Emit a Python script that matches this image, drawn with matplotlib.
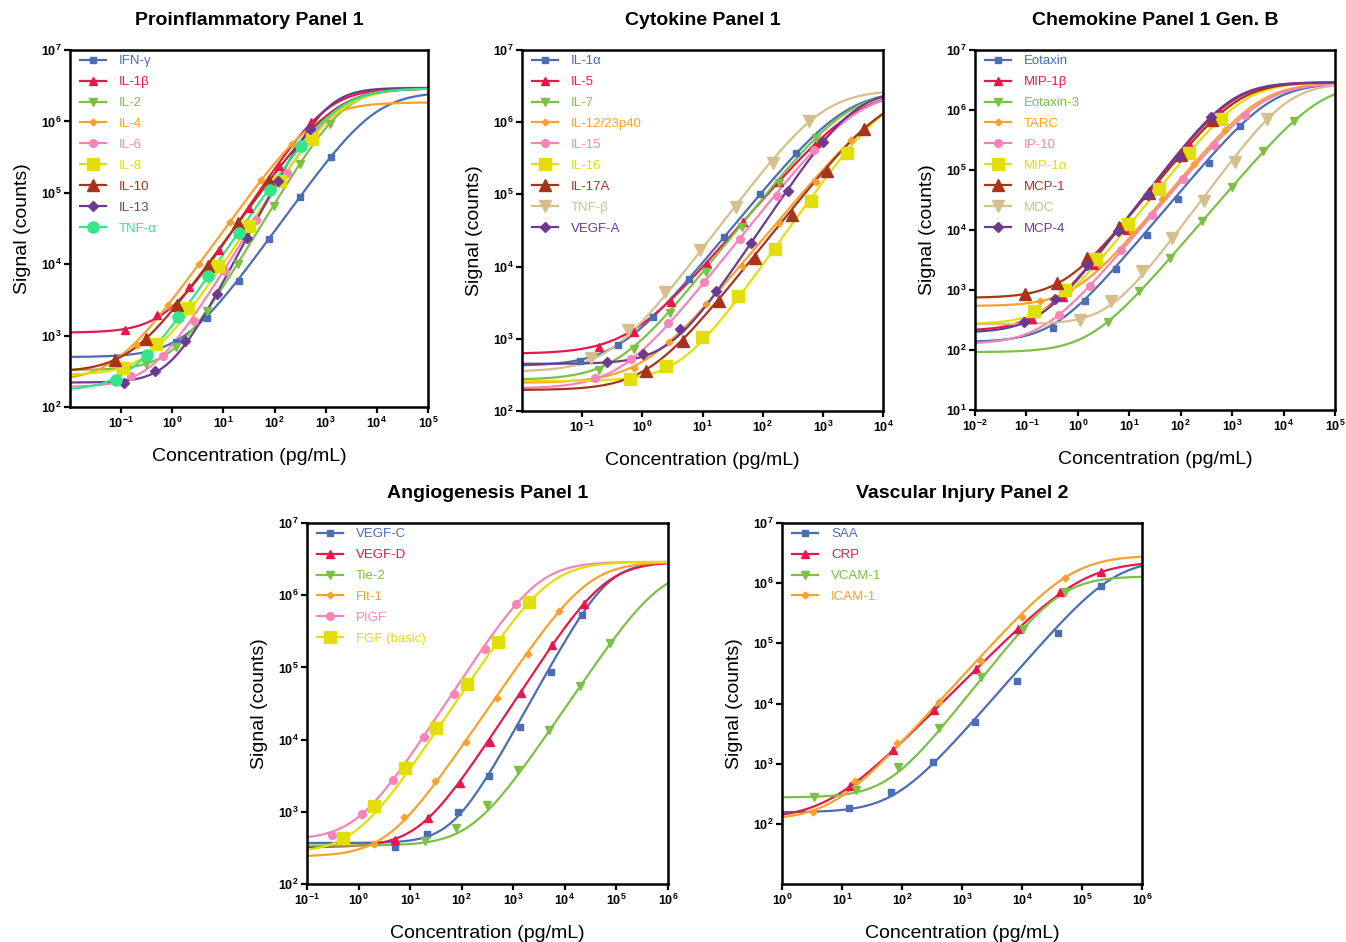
import numpy as np
import matplotlib
matplotlib.use("Agg")
import matplotlib.pyplot as plt

plt.rcParams['font.family'] = ['Liberation Sans', 'DejaVu Sans']
plt.rcParams['mathtext.fontset'] = 'custom'
plt.rcParams['mathtext.rm'] = 'Liberation Sans:bold'
plt.rcParams['mathtext.it'] = 'Liberation Sans:bold'
plt.rcParams['mathtext.bf'] = 'Liberation Sans:bold'

# ---------------- data ----------------
# fit parameters per series: (bottom, top, EC50, hill)
P1_TITLE = "Proinflammatory Panel 1"
P1_LABELS = ["IFN-γ", "IL-1β", "IL-2", "IL-4", "IL-6", "IL-8", "IL-10", "IL-13", "TNF-α"]
P1_CONC = [
    [1.2, 4.8, 20, 78, 316, 1260],
    [0.12, 0.5, 2.1, 8.2, 32, 122, 515],
    [0.3, 1.2, 4.7, 19, 98, 316, 1200],
    [0.2, 0.83, 3.3, 13.5, 54, 219],
    [0.155, 0.65, 2.6, 10.5, 43, 174],
    [0.11, 0.49, 2.0, 7.9, 31, 129, 540],
    [0.076, 0.30, 1.23, 4.9, 19.5, 78],
    [0.115, 0.46, 1.8, 7.4, 29.5, 117, 490],
    [0.079, 0.32, 1.29, 5.1, 20.4, 83, 324],
]
P1_SIGNAL = [
    [820, 1780, 5800, 22400, 87000, 316000],
    [1200, 1950, 4800, 15800, 61000, 238000, 980000],
    [400, 700, 2200, 10200, 66000, 257000, 930000],
    [740, 2700, 10000, 39000, 149000, 480000],
    [270, 520, 1600, 8000, 41000, 190000],
    [355, 760, 2400, 9300, 34000, 148000, 575000],
    [450, 900, 2700, 9500, 38000, 145000],
    [220, 320, 830, 3800, 23000, 148000, 790000],
    [240, 540, 1800, 6800, 27000, 110000, 447000],
]
P1_FIT = [
    (500, 2.6e6, 9000, 1.0),
    (1100, 2.9e6, 1000, 1.1),
    (330, 2.9e6, 2240, 1.19),
    (230, 1.85e6, 620, 1.0),
    (190, 2.9e6, 1700, 1.15),
    (280, 2.9e6, 1990, 1.07),
    (310, 2.9e6, 1480, 1.0),
    (220, 2.95e6, 1010, 1.36),
    (170, 2.9e6, 1640, 1.05),
]
P1_XEXP = [-1, 0, 1, 2, 3, 4, 5]
P1_YEXP = [2, 3, 4, 5, 6, 7]

P2_TITLE = "Cytokine Panel 1"
P2_LABELS = ["IL-1α", "IL-5", "IL-7", "IL-12/23p40", "IL-15", "IL-16", "IL-17A", "TNF-β", "VEGF-A"]
P2_CONC = [
    [0.093, 0.40, 1.5, 6.0, 22.5, 91, 363],
    [0.19, 0.74, 3.0, 12, 47, 186, 770],
    [0.19, 0.74, 2.9, 11.3, 46, 186, 760],
    [0.72, 2.75, 11.5, 46, 186, 760, 2950],
    [0.166, 0.66, 2.7, 10.5, 42, 174, 710],
    [0.62, 2.45, 9.8, 39, 158, 630, 2500],
    [1.17, 4.8, 18.7, 74, 302, 1170, 4800],
    [0.14, 0.58, 2.35, 9.1, 36, 148, 590],
    [0.26, 1.02, 4.2, 16.6, 65, 263, 1020],
]
P2_SIGNAL = [
    [500, 810, 2000, 6800, 26000, 100000, 370000],
    [760, 1230, 3200, 11000, 42000, 150000, 510000],
    [370, 720, 2250, 8500, 35000, 145000, 600000],
    [390, 910, 3000, 10200, 40000, 150000, 560000],
    [290, 520, 1660, 6200, 24000, 96000, 410000],
    [275, 420, 1070, 3900, 17400, 81000, 380000],
    [355, 930, 3300, 13200, 52000, 214000, 810000],
    [550, 1320, 4400, 17000, 66000, 270000, 1050000],
    [470, 610, 1350, 4600, 21400, 110000, 540000],
]
P2_FIT = [
    (420, 2.8e6, 2300, 1.02),
    (620, 2.8e6, 3600, 0.97),
    (270, 2.8e6, 2620, 1.05),
    (245, 2.8e6, 11800, 1.0),
    (205, 2.7e6, 3660, 1.05),
    (260, 2.8e6, 11500, 1.18),
    (195, 2.8e6, 11300, 1.05),
    (350, 2.8e6, 1000, 1.1),
    (450, 2.8e6, 3210, 1.25),
]
P2_XEXP = [-1, 0, 1, 2, 3, 4]
P2_YEXP = [2, 3, 4, 5, 6, 7]

P3_TITLE = "Chemokine Panel 1 Gen. B"
P3_LABELS = ["Eotaxin", "MIP-1β", "Eotaxin-3", "TARC", "IP-10", "MIP-1α", "MCP-1", "MDC", "MCP-4"]
P3_CONC = [
    [0.33, 1.38, 5.5, 21.7, 87, 355, 1410],
    [0.13, 0.52, 2.1, 8.9, 36, 145, 575],
    [3.9, 15.5, 63, 257, 1000, 4070, 15800],
    [0.18, 0.68, 2.7, 11.3, 44, 178, 725],
    [0.43, 1.74, 6.9, 28, 112, 447, 1780],
    [0.14, 0.55, 2.3, 9.4, 38, 148, 603],
    [0.094, 0.39, 1.52, 6.3, 24.5, 100, 400],
    [1.1, 4.4, 17.6, 69, 280, 1140, 4700],
    [0.089, 0.36, 1.48, 5.9, 23.4, 93, 380],
]
P3_SIGNAL = [
    [235, 650, 2200, 8300, 33000, 132000, 540000],
    [330, 750, 2600, 10000, 62000, 270000, 910000],
    [295, 980, 3450, 14000, 52000, 205000, 650000],
    [660, 1000, 2700, 9100, 33000, 126000, 465000],
    [390, 1170, 4600, 17800, 71000, 263000, 830000],
    [450, 1000, 3250, 12600, 49000, 190000, 705000],
    [850, 1290, 3400, 11400, 42000, 178000, 680000],
    [316, 660, 2100, 7400, 30000, 135000, 720000],
    [290, 710, 2570, 9600, 38000, 166000, 760000],
]
P3_FIT = [
    (135, 2.8e6, 5740, 1.02),
    (210, 2.9e6, 1050, 1.1),
    (92, 2.8e6, 52300, 1.0),
    (540, 2.8e6, 3470, 1.03),
    (125, 2.8e6, 4180, 1.01),
    (270, 2.9e6, 1710, 1.07),
    (740, 2.9e6, 1310, 1.06),
    (270, 2.8e6, 12500, 1.15),
    (195, 2.9e6, 960, 1.12),
]
P3_XEXP = [-2, -1, 0, 1, 2, 3, 4, 5]
P3_YEXP = [1, 2, 3, 4, 5, 6, 7]

P4_TITLE = "Angiogenesis Panel 1"
P4_LABELS = ["VEGF-C", "VEGF-D", "Tie-2", "Flt-1", "PIGF", "FGF (basic)"]
P4_CONC = [
    [5.2, 21, 85, 340, 1320, 5330, 21400],
    [5.2, 22, 91, 360, 1440, 5750, 23300],
    [19, 79, 310, 1230, 4900, 19500, 76000],
    [1.95, 7.6, 31, 123, 490, 1950, 7800],
    [0.30, 1.17, 4.7, 18.3, 72, 288, 1150],
    [0.5, 1.95, 7.8, 31.6, 126, 500, 2040],
]
P4_SIGNAL = [
    [330, 490, 980, 3170, 14800, 85000, 540000],
    [410, 810, 2500, 9300, 44000, 205000, 760000],
    [390, 590, 1250, 3800, 13800, 55000, 220000],
    [355, 850, 2700, 9400, 38000, 155000, 600000],
    [480, 930, 2750, 10700, 43000, 182000, 760000],
    [440, 1200, 4000, 14500, 59000, 225000, 800000],
]
P4_FIT = [
    (370, 2.9e6, 66500, 1.3),
    (325, 2.9e6, 60000, 1.1),
    (340, 2.5e6, 715000, 1.06),
    (240, 2.9e6, 28000, 1.05),
    (410, 2.9e6, 2960, 1.1),
    (270, 2.9e6, 5040, 1.07),
]
P4_XEXP = [-1, 0, 1, 2, 3, 4, 5, 6]
P4_YEXP = [2, 3, 4, 5, 6, 7]

P5_TITLE = "Vascular Injury Panel 2"
P5_LABELS = ["SAA", "CRP", "VCAM-1", "ICAM-1"]
P5_CONC = [
    [12.9, 65, 325, 1620, 8130, 40000, 204000],
    [13.7, 70, 347, 1700, 8500, 42700, 209000],
    [3.4, 17, 85, 417, 2090, 10500, 51500],
    [3.3, 16.6, 81, 407, 2040, 10000, 51500],
]
P5_SIGNAL = [
    [182, 340, 1070, 4900, 24000, 151000, 890000],
    [420, 1700, 7900, 37000, 174000, 720000, 1550000],
    [283, 370, 870, 3900, 28000, 174000, 700000],
    [160, 520, 2200, 10500, 50000, 270000, 1230000],
]
P5_FIT = [
    (155, 2.5e6, 342000, 1.15),
    (120, 2.3e6, 105000, 1.0),
    (275, 1.3e6, 45700, 1.27),
    (115, 2.9e6, 68000, 1.1),
]
P5_XEXP = [0, 1, 2, 3, 4, 5, 6]
P5_YEXP = [2, 3, 4, 5, 6, 7]

# ---------------- styles ----------------
BLUE = '#4A6DB4'
RED = '#E8174B'
GREEN = '#7BC143'
ORANGE = '#F9A12B'
PINK = '#F784B8'
YELLOW = '#E2DE0A'
DKRED = '#A93318'
PURPLE = '#6C3A8F'
TAN = '#D5BF8C'
MINT = '#34E58C'

S_SQ = dict(marker='s', ms=5)
S_TU = dict(marker='^', ms=5.5)
S_TD = dict(marker='v', ms=5.5)
S_DI = dict(marker='D', ms=3.5)
S_CI = dict(marker='o', ms=5.5)
B_SQ = dict(marker='s', ms=8)
B_TU = dict(marker='^', ms=9)
B_TD = dict(marker='v', ms=9)
M_DI = dict(marker='D', ms=5.5)
B_CI = dict(marker='o', ms=8)

P1_STY = [(BLUE, S_SQ), (RED, S_TU), (GREEN, S_TD), (ORANGE, S_DI), (PINK, S_CI),
          (YELLOW, B_SQ), (DKRED, B_TU), (PURPLE, M_DI), (MINT, B_CI)]
P2_STY = [(BLUE, S_SQ), (RED, S_TU), (GREEN, S_TD), (ORANGE, S_DI), (PINK, S_CI),
          (YELLOW, B_SQ), (DKRED, B_TU), (TAN, B_TD), (PURPLE, M_DI)]
P3_STY = [(BLUE, S_SQ), (RED, S_TU), (GREEN, S_TD), (ORANGE, S_DI), (PINK, S_CI),
          (YELLOW, B_SQ), (DKRED, B_TU), (TAN, B_TD), (PURPLE, M_DI)]
P4_STY = [(BLUE, S_SQ), (RED, S_TU), (GREEN, S_TD), (ORANGE, S_DI), (PINK, S_CI), (YELLOW, B_SQ)]
P5_STY = [(BLUE, S_SQ), (RED, S_TU), (GREEN, S_TD), (ORANGE, S_DI)]

W, H = 1346, 942
fig = plt.figure(figsize=(W / 100, H / 100), dpi=100)


def px_axes(l, t, r, b):
    return fig.add_axes([l / W, 1 - b / H, (r - l) / W, (b - t) / H])


def four_pl(x, p):
    b, t, ec, h = p
    return b + (t - b) / (1 + (ec / x) ** h)


def panel(box, title, labels, conc, sig, fits, styles, xlim, ylim, xexp, yexp):
    ax = px_axes(*box)
    ax.set_xscale('log')
    ax.set_yscale('log')
    xs = np.logspace(xlim[0], xlim[1], 400)
    for lab, cx, sy, p, (col, mk) in zip(labels, conc, sig, fits, styles):
        ax.plot(xs, four_pl(xs, p), color=col, lw=1.6, zorder=2)
        ax.plot(cx, sy, linestyle='none', color=col, zorder=3, **mk)
        ax.plot([], [], color=col, lw=1.6, label=lab, **mk)
    ax.set_xlim(10.0 ** xlim[0], 10.0 ** xlim[1])
    ax.set_ylim(10.0 ** ylim[0], 10.0 ** ylim[1])
    ax.set_xticks([10.0 ** e for e in xexp])
    ax.set_xticklabels([r'$10^{%d}$' % e for e in xexp])
    ax.set_yticks([10.0 ** e for e in yexp])
    ax.set_yticklabels([r'$10^{%d}$' % e for e in yexp])
    ax.minorticks_off()
    ax.tick_params(direction='out', length=4, width=1.6, labelsize=9, pad=2)
    for s in ax.spines.values():
        s.set_linewidth(1.8)
    hpx = box[3] - box[1]
    wpx = box[2] - box[0]
    ax.set_xlabel('Concentration (pg/mL)', fontsize=14)
    ax.xaxis.set_label_coords(0.5, -41 / hpx)
    ax.set_ylabel('Signal (counts)', fontsize=14)
    ax.yaxis.set_label_coords(-39 / wpx, 0.5)
    ax.annotate(title, xy=(0.5, 1), xycoords='axes fraction', xytext=(0, 21.5),
                textcoords='offset points', ha='center', va='center',
                fontsize=14, fontweight='bold')
    ax.legend(loc='upper left', bbox_to_anchor=(10 / wpx, 1 - 5 / hpx), frameon=False,
              fontsize=9.5, labelcolor='linecolor', handlelength=1.95,
              handletextpad=1.0, labelspacing=0.66, borderpad=0, borderaxespad=0)
    return ax


panel((70, 50, 428, 407), P1_TITLE, P1_LABELS, P1_CONC, P1_SIGNAL, P1_FIT, P1_STY,
      (-2, 5), (2, 7), P1_XEXP, P1_YEXP)
panel((522, 50, 883, 411), P2_TITLE, P2_LABELS, P2_CONC, P2_SIGNAL, P2_FIT, P2_STY,
      (-2, 4), (2, 7), P2_XEXP, P2_YEXP)
panel((975, 50, 1335, 410), P3_TITLE, P3_LABELS, P3_CONC, P3_SIGNAL, P3_FIT, P3_STY,
      (-2, 5), (1, 7), P3_XEXP, P3_YEXP)
panel((307, 523, 668, 884), P4_TITLE, P4_LABELS, P4_CONC, P4_SIGNAL, P4_FIT, P4_STY,
      (-1, 6), (2, 7), P4_XEXP, P4_YEXP)
panel((782, 523, 1142, 884), P5_TITLE, P5_LABELS, P5_CONC, P5_SIGNAL, P5_FIT, P5_STY,
      (0, 6), (1, 7), P5_XEXP, P5_YEXP)

fig.savefig('out.png', dpi=100)
